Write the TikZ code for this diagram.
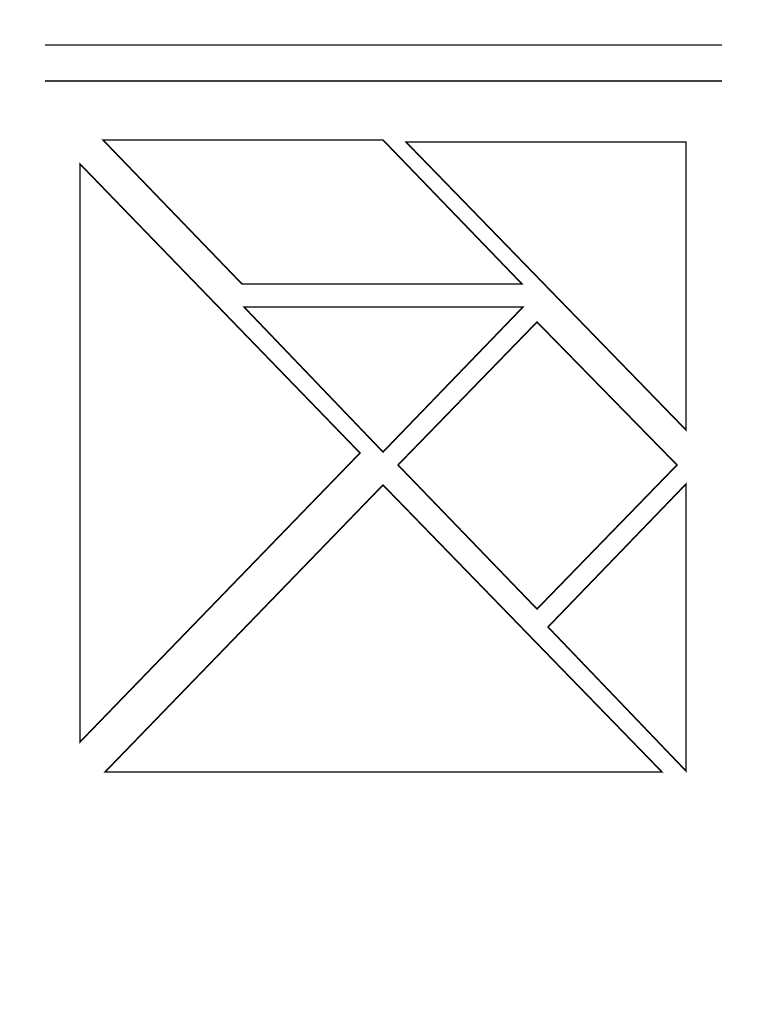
\documentclass[tikz,border=0pt]{standalone}
\begin{document}
\begin{tikzpicture}[x=1pt,y=-1pt,
  rule/.style={draw=black!60,line width=1.6pt},
  piece/.style={draw=black,line width=1.4pt,line join=miter}]
\useasboundingbox[fill=white] (0,0) rectangle (768,1024);
% header rules
\draw[rule] (45,45) -- (722,45);
\draw[rule,draw=black!75] (45,81) -- (722,81);
% parallelogram
\draw[piece] (103,140) -- (383,140) -- (522,284) -- (242,284) -- cycle;
% top-right triangle
\draw[piece] (406,142) -- (686,142) -- (686,430) -- cycle;
% left big triangle
\draw[piece] (80,164) -- (360,453) -- (80,742) -- cycle;
% middle small triangle
\draw[piece] (244,307) -- (523,307) -- (383,452) -- cycle;
% square
\draw[piece] (398,465) -- (537,322) -- (677,465) -- (537,609) -- cycle;
% bottom big triangle
\draw[piece] (105,772) -- (383,485) -- (662,772) -- cycle;
% bottom-right small triangle
\draw[piece] (548,627) -- (686,484) -- (686,771) -- cycle;
\end{tikzpicture}
\end{document}
